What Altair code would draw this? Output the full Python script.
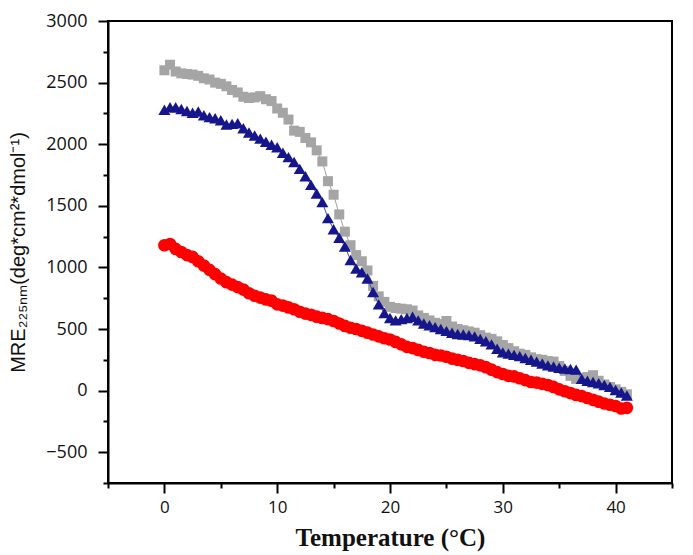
import altair as alt
import pandas as pd

# MRE at 225 nm (0.5 degC steps)
gray = [2600, 2645, 2590, 2575, 2570, 2565, 2555, 2535, 2525, 2500,
        2490, 2470, 2440, 2420, 2385, 2375, 2380, 2390, 2365, 2350,
        2290, 2255, 2200, 2110, 2100, 2050, 2015, 1950, 1860, 1700,
        1590, 1430, 1290, 1180, 1100, 1050, 975, 850, 765, 720,
        680, 670, 665, 660, 650, 610, 590, 570, 550, 540,
        565, 520, 500, 490, 480, 470, 450, 430, 420, 400,
        370, 345, 320, 300, 290, 270, 255, 250, 240, 235,
        200, 160, 120, 95, 100, 110, 125, 80, 50, 30,
        10, -10, -30]
navy = [2280, 2300, 2300, 2285, 2270, 2255, 2265, 2235, 2220, 2210,
        2195, 2160, 2165, 2170, 2130, 2095, 2070, 2045, 2020, 1995,
        1975, 1930, 1895, 1855, 1800, 1740, 1670, 1600, 1530, 1400,
        1310, 1240, 1170, 1060, 990, 960, 910, 800, 700, 630,
        590, 570, 580, 590, 600, 570, 545, 530, 515, 500,
        485, 470, 460, 455, 450, 440, 420, 400, 375, 340,
        310, 300, 290, 280, 265, 250, 235, 220, 205, 195,
        185, 180, 175, 170, 95, 80, 70, 60, 45, 30,
        5, -15, -40]
red = [1180, 1190, 1150, 1125, 1100, 1085, 1050, 1015, 980, 945,
       910, 880, 860, 840, 820, 790, 770, 755, 740, 730,
       700, 690, 675, 660, 640, 625, 615, 600, 590, 580,
       565, 545, 525, 510, 500, 485, 470, 455, 440, 425,
       415, 395, 375, 355, 345, 330, 315, 305, 290, 285,
       275, 260, 250, 240, 225, 215, 205, 190, 170, 150,
       135, 120, 115, 100, 85, 70, 65, 55, 45, 30,
       10, -5, -20, -35, -45, -60, -75, -90, -105, -115,
       -125, -145, -140]

temps = [i / 2 for i in range(len(gray))]
x_ticks = list(range(-5, 46, 5))
y_ticks = list(range(-750, 3001, 250))

df = pd.DataFrame({
    "T": temps * 3,
    "MRE": gray + navy + red,
    "series": ["A"] * len(gray) + ["B"] * len(navy) + ["C"] * len(red),
})

xaxis = alt.Axis(
    values=x_ticks, format="d",
    labelExpr="datum.value % 10 === 0 ? datum.label : ''",
    tickSize={"condition": {"test": "datum.value % 10 === 0", "value": 10}, "value": 5},
    tickWidth=2, tickColor="black", domainColor="black", domainWidth=2,
    labelFont="Open Sans", labelFontSize=17, labelColor="#111", labelPadding=6,
    labelOverlap=False, grid=False,
    title="Temperature (°C)", titleFont="Liberation Serif", titleFontWeight="bold",
    titleFontSize=25, titleColor="#111", titlePadding=10,
)
yaxis = alt.Axis(
    values=y_ticks, format="d",
    labelExpr="datum.value % 500 === 0 ? datum.label : ''",
    tickSize={"condition": {"test": "datum.value % 500 === 0", "value": 10}, "value": 5},
    tickWidth=2, tickColor="black", domainColor="black", domainWidth=2,
    labelFont="Open Sans", labelFontSize=18, labelColor="#111", labelPadding=11,
    labelOverlap=False, grid=False,
    title="MRE₂₂₅ₙₘ(deg*cm²*dmol⁻¹)", titleFont="Liberation Sans",
    titleFontWeight="normal", titleFontSize=20, titleColor="#111", titlePadding=17,
)

base = alt.Chart(df).encode(
    x=alt.X("T:Q", scale=alt.Scale(domain=[-5, 45], nice=False, zero=False), axis=xaxis),
    y=alt.Y("MRE:Q", scale=alt.Scale(domain=[-750, 3000], nice=False, zero=False), axis=yaxis),
)

def sel(s):
    return base.transform_filter(alt.datum.series == s)

layers = [
    sel("A").mark_line(color="#a0a0a0", strokeWidth=1),
    sel("A").mark_point(shape="square", filled=True, size=100, color="#a5a5a5", opacity=1, strokeWidth=0),
    sel("B").mark_line(color="#4a4ab0", strokeWidth=1),
    sel("B").mark_point(shape="triangle-up", filled=True, size=145, color="#16168c", opacity=1, strokeWidth=0),
    sel("C").mark_line(color="#ff0000", strokeWidth=1),
    sel("C").mark_point(shape="circle", filled=True, size=160, color="#ff0000", opacity=1, strokeWidth=0),
]

chart = alt.layer(*layers).properties(
    width=564, height=462,
    autosize=alt.AutoSizeParams(type="none"),
    padding={"left": 100, "top": 13, "right": 12, "bottom": 70},
    background="white",
).configure_view(stroke="black", strokeWidth=2)

chart.save("out.html", embed_options={"renderer": "svg", "actions": False})
